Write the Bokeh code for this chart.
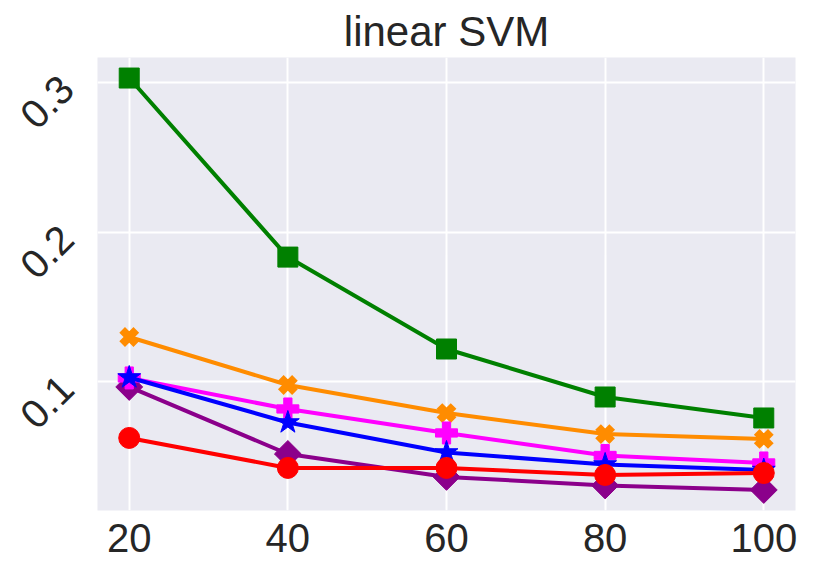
import math
from bokeh.plotting import figure
from bokeh.embed import file_html
from bokeh.resources import INLINE
from bokeh.models import FixedTicker, Range1d

x_vals = [20, 40, 60, 80, 100]
green_sq = [0.3027, 0.1833, 0.1220, 0.0900, 0.0760]
orange_x = [0.1300, 0.0980, 0.0793, 0.0653, 0.0620]
magenta_plus = [0.1027, 0.0820, 0.0660, 0.0510, 0.0460]
blue_star = [0.1030, 0.0730, 0.0530, 0.0450, 0.0413]
purple_diamond = [0.0967, 0.0520, 0.0367, 0.0310, 0.0280]
red_circle = [0.0627, 0.0427, 0.0427, 0.0380, 0.0393]
x_ticks = [20, 40, 60, 80, 100]
y_ticks = [0.1, 0.2, 0.3]

FONT = "Liberation Sans"
TXT = "#262626"

x0, x1 = 16, 104
y0, y1 = 0.0143, 0.3164

p = figure(frame_width=698, frame_height=453,
           output_backend="svg", toolbar_location=None,
           x_range=Range1d(x0, x1), y_range=Range1d(y0, y1),
           title="linear SVM", min_border_left=97, min_border_right=8,
           min_border_bottom=60, min_border_top=57)

p.background_fill_color = "#EAEAF2"
p.border_fill_color = "white"
p.outline_line_color = None
p.title.align = "center"
p.title.text_font = FONT
p.title.text_font_size = "42px"
p.title.text_font_style = "normal"
p.title.text_color = TXT
p.title.standoff = 6

p.xgrid.grid_line_color = "white"
p.ygrid.grid_line_color = "white"
p.xgrid.grid_line_width = 2
p.ygrid.grid_line_width = 2
p.xaxis.ticker = FixedTicker(ticks=x_ticks)
p.yaxis.ticker = FixedTicker(ticks=y_ticks)
p.xgrid.ticker = FixedTicker(ticks=x_ticks)
p.ygrid.ticker = FixedTicker(ticks=y_ticks)

for ax in (p.xaxis, p.yaxis):
    ax.axis_line_color = None
    ax.major_tick_line_color = None
    ax.minor_tick_line_color = None
    ax.major_tick_out = 0
    ax.major_tick_in = 0
    ax.major_label_text_font = FONT
    ax.major_label_text_font_size = "40px"
    ax.major_label_text_color = TXT
p.xaxis.major_label_standoff = 13
p.yaxis.major_label_standoff = 31
p.yaxis.major_label_orientation = math.pi / 4

lw = 4
p.line(x_vals, green_sq, color="green", line_width=lw)
p.scatter(x_vals, green_sq, marker="square", size=20, color="green")

p.line(x_vals, orange_x, color="darkorange", line_width=lw)
p.scatter(x_vals, orange_x, marker="x", size=20, line_width=8, color="darkorange")

p.line(x_vals, purple_diamond, color="darkmagenta", line_width=lw)
p.scatter(x_vals, purple_diamond, marker="square", size=19, angle=math.pi / 4,
          color="darkmagenta")

p.line(x_vals, magenta_plus, color="magenta", line_width=lw)
p.scatter(x_vals, magenta_plus, marker="plus", size=22, color="magenta")

p.line(x_vals, blue_star, color="blue", line_width=lw)
p.scatter(x_vals, blue_star, marker="star", size=24, color="blue")

p.line(x_vals, red_circle, color="red", line_width=lw)
p.scatter(x_vals, red_circle, marker="circle", size=21, color="red")

open("out.html", "w").write(file_html(p, INLINE))
